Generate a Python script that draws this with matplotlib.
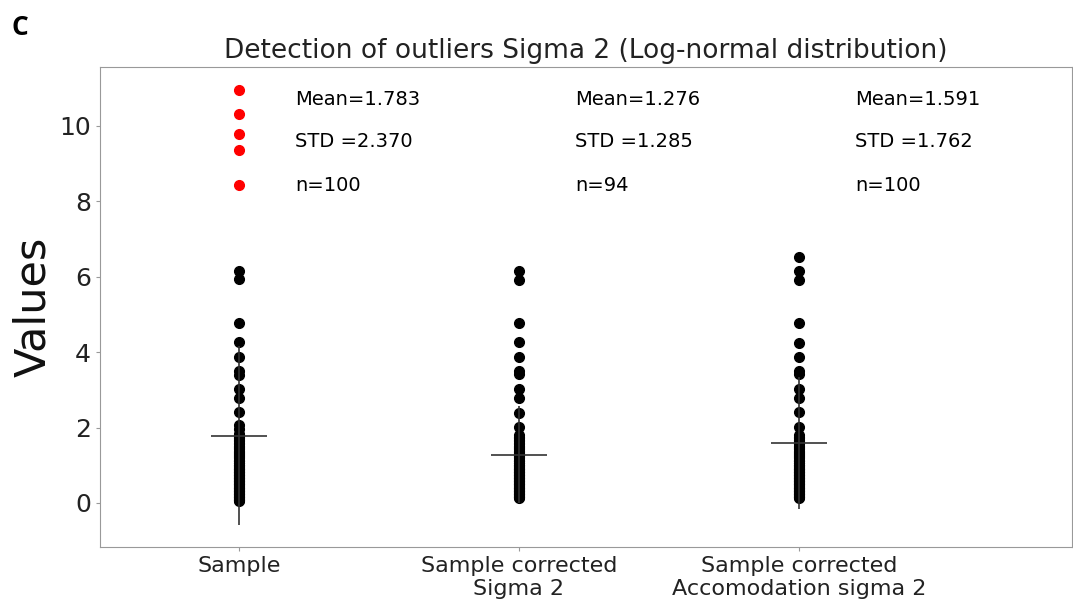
import matplotlib
matplotlib.use("Agg")
import matplotlib.pyplot as plt

# values
labels = ["Sample", "Sample corrected\nSigma 2", "Sample corrected\nAccomodation sigma 2"]
means = [1.783, 1.276, 1.591]
stds = [2.370, 1.285, 1.762]
counts = [100, 94, 100]

outliers = [10.95, 10.32, 9.79, 9.35, 8.43]

upper_sample = [6.15, 5.93, 4.78, 4.28, 3.88, 3.50, 3.40, 3.02, 2.78, 2.40, 2.07, 1.95]
dense_sample = [1.84, 1.80, 1.76, 1.72, 1.68, 1.64, 1.60, 1.56, 1.52, 1.48, 1.45, 1.42,
                1.39, 1.36, 1.33, 1.30, 1.27, 1.24, 1.21, 1.18, 1.15, 1.12, 1.10, 1.07,
                1.05, 1.02, 1.00, 0.97, 0.95, 0.93, 0.91, 0.89, 0.87, 0.85, 0.83, 0.81,
                0.79, 0.77, 0.75, 0.73, 0.71, 0.69, 0.67, 0.65, 0.63, 0.61, 0.59, 0.57,
                0.55, 0.53, 0.51, 0.49, 0.47, 0.45, 0.43, 0.41, 0.39, 0.37, 0.35, 0.33,
                0.31, 0.29, 0.27, 0.25, 0.23, 0.21, 0.19, 0.17, 0.15, 0.13, 0.11, 0.09,
                0.07, 0.05]

upper_corr = [6.15, 5.92, 4.78, 4.28, 3.88, 3.50, 3.42, 3.02, 2.79, 2.38, 2.02]
dense_corr = [1.80, 1.76, 1.72, 1.68, 1.64, 1.60, 1.56, 1.52, 1.48, 1.45, 1.42, 1.39,
              1.36, 1.33, 1.30, 1.27, 1.24, 1.21, 1.18, 1.15, 1.12, 1.10, 1.07, 1.05,
              1.02, 1.00, 0.97, 0.95, 0.93, 0.91, 0.89, 0.87, 0.85, 0.83, 0.81, 0.79,
              0.77, 0.75, 0.73, 0.71, 0.69, 0.67, 0.65, 0.63, 0.61, 0.59, 0.57, 0.55,
              0.53, 0.51, 0.49, 0.47, 0.45, 0.43, 0.41, 0.39, 0.37, 0.35, 0.33, 0.31,
              0.29, 0.27, 0.25, 0.23, 0.21, 0.19, 0.17, 0.15, 0.13]

upper_acc = [6.53, 6.14, 5.92, 4.77, 4.25, 3.88, 3.50, 3.42, 3.02, 2.78, 2.40, 2.02]
dense_acc = dense_corr

columns = [upper_sample + dense_sample, upper_corr + dense_corr, upper_acc + dense_acc]
xpos = [1, 2, 3]

fig = plt.figure(figsize=(10.73, 6.04), dpi=100)
ax = fig.add_axes([0.0932, 0.0944, 0.906, 0.795])

for x, vals, m, s in zip(xpos, columns, means, stds):
    ax.plot([x] * len(vals), vals, 'o', color='black', ms=7, zorder=2)
    ax.errorbar(x, m, yerr=s, xerr=0.1, color='#333333', lw=1.2, zorder=3)

ax.plot([xpos[0]] * len(outliers), outliers, 'o', color='red', ms=7, zorder=2)

for x, m, s, n in zip(xpos, means, stds, counts):
    ax.text(x + 0.2, 10.69, "Mean=%.3f" % m, fontsize=14, va='center')
    ax.text(x + 0.2, 9.58, "STD =%.3f" % s, fontsize=14, va='center')
    ax.text(x + 0.2, 8.43, "n=%d" % n, fontsize=14, va='center')

ax.set_xlim(0.504, 3.975)
ax.set_ylim(-1.167, 11.565)
ax.set_yticks([0, 2, 4, 6, 8, 10])
ax.set_xticks(xpos)
ax.set_xticklabels(labels, fontsize=16, color='#222222')
ax.tick_params(axis='y', labelsize=18, colors='#222222')
ax.tick_params(length=3, color='#999999')
for sp in ax.spines.values():
    sp.set_color('#999999')
ax.set_ylabel("Values", fontsize=31, color='#111111')
ax.set_title("Detection of outliers Sigma 2 (Log-normal distribution)", fontsize=19, color='#222222')

fig.text(0.011, 0.955, "C", fontsize=19, fontweight='bold', family='Open Sans', va='center')

fig.savefig("out.png", dpi=100)
